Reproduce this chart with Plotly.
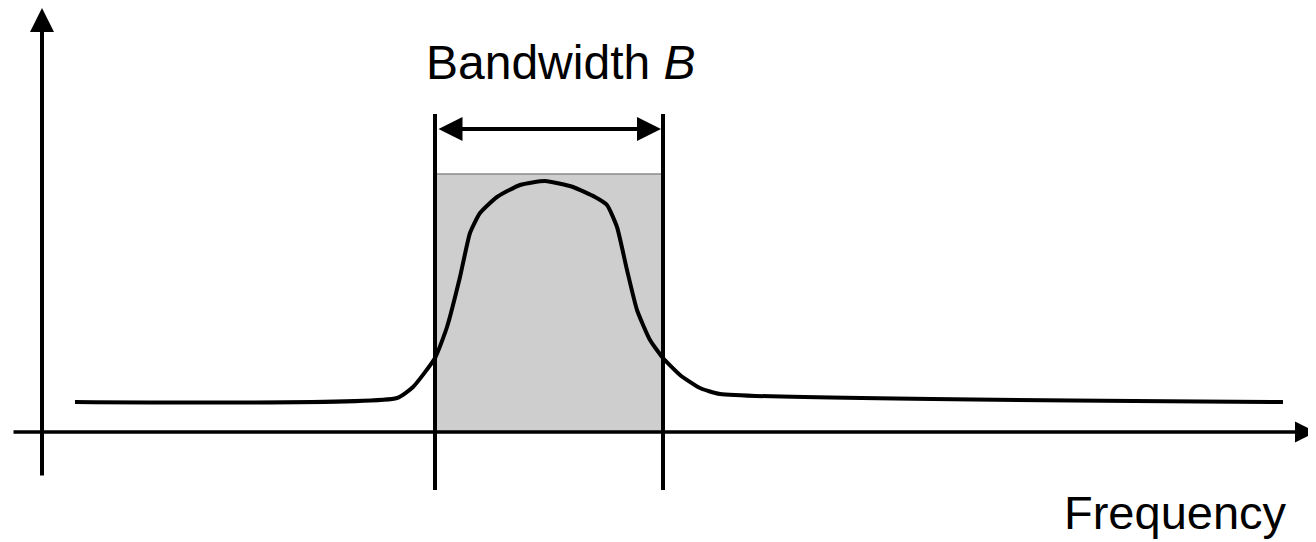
import plotly.graph_objects as go

# signal spectrum (frequency position, amplitude above the axis)
freq = [75, 397, 413, 435, 447, 460, 470, 480, 497, 520, 545, 573, 595, 607,
        617, 627, 637, 650, 663, 680, 700, 720, 1283]
amplitude = [30, 34, 45, 74, 105, 155, 199, 219, 235, 247, 251, 245, 235, 227,
             205, 162, 122, 92, 74, 57, 44, 38, 30]

# band edges and the gray "ideal" band
band_lo, band_hi = 435, 663
band_height = 258

axis_x0, axis_x1 = 12, 1316
yaxis_pos = 42
yaxis_bottom, yaxis_top = -45, 424
edge_bottom, edge_top = -58, 318
arrow_y = 303

fig = go.Figure()

fig.add_trace(go.Scatter(x=freq, y=amplitude, mode="lines",
                         line=dict(color="black", width=4, shape="spline", smoothing=0.5),
                         hoverinfo="skip", showlegend=False))

shapes = [
    dict(type="rect", x0=band_lo, x1=band_hi, y0=0, y1=band_height,
         fillcolor="#cecece", line=dict(color="#8a8a8a", width=1.5), layer="below"),
    dict(type="line", x0=band_lo, x1=band_lo, y0=edge_bottom, y1=edge_top,
         line=dict(color="black", width=4)),
    dict(type="line", x0=band_hi, x1=band_hi, y0=edge_bottom, y1=edge_top,
         line=dict(color="black", width=4)),
]

annotations = [
    # x axis
    dict(x=axis_x1, y=0, ax=axis_x0, ay=0, xref="x", yref="y", axref="x", ayref="y",
         text="", showarrow=True, arrowhead=2, arrowsize=1.2, arrowwidth=3.5, arrowcolor="black"),
    # y axis
    dict(x=yaxis_pos, y=yaxis_top, ax=yaxis_pos, ay=yaxis_bottom, xref="x", yref="y",
         axref="x", ayref="y", text="", showarrow=True, arrowhead=2, arrowsize=1.2,
         arrowwidth=4, arrowcolor="black"),
    # bandwidth double arrow
    dict(x=band_hi - 2, y=arrow_y, ax=band_lo + 2, ay=arrow_y, xref="x", yref="y",
         axref="x", ayref="y", text="", showarrow=True, arrowside="end+start",
         arrowhead=2, startarrowhead=2, arrowsize=1.2, startarrowsize=1.2,
         arrowwidth=4, arrowcolor="black"),
    dict(x=561, y=370, xref="x", yref="y", text="Bandwidth <i>B</i>", showarrow=False,
         font=dict(family="Liberation Sans, Arial", size=48, color="black")),
    dict(x=1175, y=-80, xref="x", yref="y", text="Frequency", showarrow=False,
         font=dict(family="Liberation Sans, Arial", size=47, color="black")),
]

# page body has an 8px margin, so the figure is sized to the rest of the window
fig.update_layout(
    width=1308, height=534,
    margin=dict(l=0, r=0, t=0, b=0),
    plot_bgcolor="white", paper_bgcolor="white",
    xaxis=dict(range=[8, 1316], visible=False, fixedrange=True),
    yaxis=dict(range=[-110, 424], visible=False, fixedrange=True),
    shapes=shapes, annotations=annotations,
)

fig.write_html("out.html")
